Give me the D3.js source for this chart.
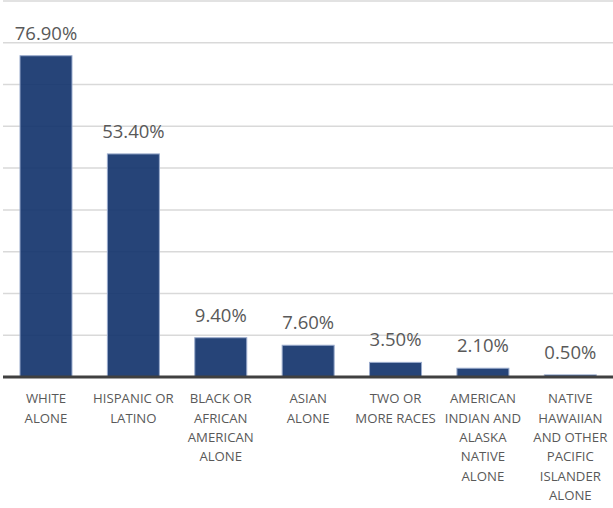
<!DOCTYPE html>
<html>
<head>
<meta charset="utf-8">
<script src="https://cdn.jsdelivr.net/npm/d3@7"></script>
<style>
  html, body { margin: 0; padding: 0; background: #fff; }
  svg { display: block; }
</style>
</head>
<body>
<svg id="chart" width="613" height="508"></svg>
<script>
// ---- data ----
const categories = [
  "WHITE ALONE",
  "HISPANIC OR LATINO",
  "BLACK OR AFRICAN AMERICAN ALONE",
  "ASIAN ALONE",
  "TWO OR MORE RACES",
  "AMERICAN INDIAN AND ALASKA NATIVE ALONE",
  "NATIVE HAWAIIAN AND OTHER PACIFIC ISLANDER ALONE"
];
const categoryLines = [
  ["WHITE", "ALONE"],
  ["HISPANIC OR", "LATINO"],
  ["BLACK OR", "AFRICAN", "AMERICAN", "ALONE"],
  ["ASIAN", "ALONE"],
  ["TWO OR", "MORE RACES"],
  ["AMERICAN", "INDIAN AND", "ALASKA", "NATIVE", "ALONE"],
  ["NATIVE", "HAWAIIAN", "AND OTHER", "PACIFIC", "ISLANDER", "ALONE"]
];
const values = [76.9, 53.4, 9.4, 7.6, 3.5, 2.1, 0.5];
const valueLabels = ["76.90%", "53.40%", "9.40%", "7.60%", "3.50%", "2.10%", "0.50%"];
const gridTicks = [0, 10, 20, 30, 40, 50, 60, 70, 80, 90];

// ---- chart ----
const svg = d3.select("#chart");
const font = "'Open Sans', 'Noto Sans', sans-serif";

const x = d3.scaleBand()
  .domain(categories)
  .range([2.3, 614])
  .paddingInner(0.405)
  .paddingOuter(0.2025);

const y = d3.scaleLinear().domain([0, 90]).range([377, 1]);

// gridlines
svg.append("g")
  .selectAll("line")
  .data(gridTicks.filter(d => d > 0))
  .join("line")
  .attr("x1", 3).attr("x2", 613)
  .attr("y1", d => y(d)).attr("y2", d => y(d))
  .attr("stroke", "#d9d9d9")
  .attr("stroke-width", 1.5);

// bars
svg.append("g")
  .selectAll("rect")
  .data(values)
  .join("rect")
  .attr("x", (d, i) => x(categories[i]))
  .attr("width", x.bandwidth())
  .attr("y", d => y(d))
  .attr("height", d => y(0) - y(d))
  .attr("fill", "#13346c")
  .attr("fill-opacity", 0.92)
  .attr("stroke", "#9aabcc")
  .attr("stroke-width", 1);

// baseline axis
const xAxis = d3.axisBottom(x).tickSize(0).tickFormat("");
const axisG = svg.append("g")
  .attr("transform", `translate(0,${y(0)})`)
  .call(xAxis);
axisG.select(".domain").remove();
axisG.append("line")
  .attr("x1", 3).attr("x2", 613)
  .attr("y1", 0).attr("y2", 0)
  .attr("stroke", "#404040")
  .attr("stroke-width", 3);

// value labels
svg.append("g")
  .selectAll("text")
  .data(values)
  .join("text")
  .attr("x", (d, i) => x(categories[i]) + x.bandwidth() / 2)
  .attr("y", d => y(d) - 16)
  .attr("text-anchor", "middle")
  .attr("font-family", font)
  .attr("font-size", "18.5px")
  .attr("fill", "#595959")
  .text((d, i) => valueLabels[i]);

// category labels
const catG = svg.append("g");
categories.forEach((c, i) => {
  const t = catG.append("text")
    .attr("x", x(c) + x.bandwidth() / 2)
    .attr("y", 403.3)
    .attr("text-anchor", "middle")
    .attr("font-family", font)
    .attr("font-size", "13.2px")
    .attr("fill", "#595959");
  categoryLines[i].forEach((line, j) => {
    t.append("tspan")
      .attr("x", x(c) + x.bandwidth() / 2)
      .attr("dy", j === 0 ? 0 : 19.3)
      .text(line);
  });
});
</script>
</body>
</html>
